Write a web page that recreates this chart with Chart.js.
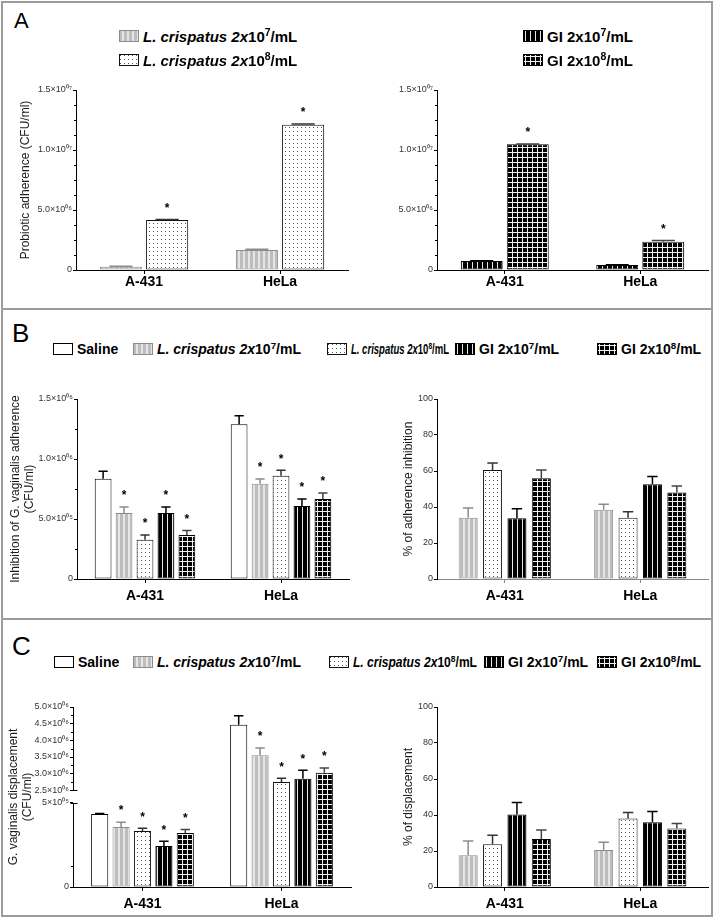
<!DOCTYPE html>
<html>
<head>
<meta charset="utf-8">
<script src="https://cdn.jsdelivr.net/npm/chart.js@4.4.1/dist/chart.umd.min.js"></script>
<style>
  body { margin: 0; background: #fff; font-family: "Liberation Sans", Arial, sans-serif; }
  #fig { position: relative; width: 717px; height: 921px; overflow: hidden; }
  #fig canvas.chart { position: absolute; }
  .frame { position: absolute; border: 2px solid #9c9c9c; box-sizing: border-box; pointer-events: none; }
  .hline { position: absolute; height: 2px; background: #9c9c9c; }
  .panel { position: absolute; font-size: 26px; line-height: 1; color: #000; }
  .lg { position: absolute; display: flex; align-items: center; height: 16px; font-weight: bold; font-size: 14px; color: #000; white-space: nowrap; line-height: 1; }
  .lg canvas { margin-right: 4px; flex: none; }
  .lg span { display: inline-block; transform-origin: left center; }
  .lg sup { font-size: 0.7em; vertical-align: baseline; position: relative; top: -0.5em; }
</style>
</head>
<body>
<div id="fig">
  <div class="frame" style="left:1px;top:1px;width:712px;height:916px"></div>
  <div class="hline" style="left:1px;top:308px;width:712px"></div>
  <div class="hline" style="left:1px;top:618px;width:712px"></div>
  <div class="panel" style="left:14px;top:10px;font-size:22px">A</div>
  <div class="panel" style="left:12px;top:320px">B</div>
  <div class="panel" style="left:12px;top:633px">C</div>
  <canvas class="chart" id="aLeft"></canvas>
  <canvas class="chart" id="aRight"></canvas>
  <canvas class="chart" id="bLeft"></canvas>
  <canvas class="chart" id="bRight"></canvas>
  <canvas class="chart" id="cLeft"></canvas>
  <canvas class="chart" id="cRight"></canvas>
</div>
<script>
const categories = ['A-431', 'HeLa'];

// A: probiotic adherence (CFU/ml)
const adhLc7 = [2.8e5, 1.67e6];
const adhLc7Err = [3e4, 5e4];
const adhLc8 = [4.17e6, 1.21e7];
const adhLc8Err = [3e4, 6e4];
const adhGi7 = [7.5e5, 4.2e5];
const adhGi7Err = [2e4, 2e4];
const adhGi8 = [1.047e7, 2.36e6];
const adhGi8Err = [4e4, 1e5];
const adhStars = [1, 1];

// B left: inhibition of G. vaginalis adherence (CFU/ml)
const inhSaline = [8.36e5, 1.29e6];
const inhSalineErr = [0.61e5, 0.07e6];
const inhLc7 = [5.5e5, 7.94e5];
const inhLc7Err = [0.5e5, 0.39e5];
const inhLc8 = [3.28e5, 8.6e5];
const inhLc8Err = [0.39e5, 0.46e5];
const inhGi7 = [5.5e5, 6.08e5];
const inhGi7Err = [0.5e5, 0.59e5];
const inhGi8 = [3.67e5, 6.67e5];
const inhGi8Err = [0.38e5, 0.5e5];

// B right: % of adherence inhibition
const pctInhLc7 = [34, 38.5];
const pctInhLc7Err = [5.5, 3];
const pctInhLc8 = [60.5, 34];
const pctInhLc8Err = [4, 3.3];
const pctInhGi7 = [33.7, 52.7];
const pctInhGi7Err = [5.3, 4.3];
const pctInhGi8 = [56, 48];
const pctInhGi8Err = [4.5, 3.7];

// C left: G. vaginalis displacement (CFU/ml), broken axis
const dispSaline = [4.33e5, 4.47e6];
const dispSalineErr = [0.03e5, 0.27e6];
const dispLc7 = [3.56e5, 3.55e6];
const dispLc7Err = [0.29e5, 0.22e6];
const dispLc8 = [3.32e5, 2.75e6];
const dispLc8Err = [0.16e5, 0.11e6];
const dispGi7 = [2.43e5, 2.85e6];
const dispGi7Err = [0.28e5, 0.25e6];
const dispGi8 = [3.2e5, 3.03e6];
const dispGi8Err = [0.22e5, 0.14e6];
const dispTicks = [0, 5e5, 2.5e6, 3e6, 3.5e6, 4e6, 4.5e6, 5e6];
const dispMinorTicks = [1.25e5, 2.75e6, 3.25e6, 3.75e6, 4.25e6, 4.75e6];

// C right: % of displacement
const pctDispLc7 = [17.6, 20.5];
const pctDispLc7Err = [7.9, 4.3];
const pctDispLc8 = [23.8, 38.1];
const pctDispLc8Err = [4.9, 3.3];
const pctDispGi7 = [40.3, 36];
const pctDispGi7Err = [6.7, 6];
const pctDispGi8 = [26.6, 32.5];
const pctDispGi8Err = [5, 2.8];

const treatedStars = [1, 1];
const noStars = [0, 0];

Chart.defaults.font.family = "'Liberation Sans', Arial, sans-serif";

// ---- fill patterns ----
function tile(w, h, draw) {
  const c = document.createElement('canvas');
  c.width = w; c.height = h;
  const g = c.getContext('2d');
  draw(g);
  return g.createPattern(c, 'repeat');
}
const fills = {
  saline: '#ffffff',
  lc7: tile(5, 1, g => { g.fillStyle = '#bdbdbd'; g.fillRect(0, 0, 5, 1); g.fillStyle = '#e6e6e6'; g.fillRect(3, 0, 2, 1); }),
  lc8: tile(4, 4, g => { g.fillStyle = '#fff'; g.fillRect(0, 0, 4, 4); g.fillStyle = '#555'; g.fillRect(1, 1, 1, 1); }),
  gi7: tile(5, 1, g => { g.fillStyle = '#000'; g.fillRect(0, 0, 5, 1); g.fillStyle = '#e8e8e8'; g.fillRect(2, 0, 1, 1); }),
  gi8: tile(5, 5, g => { g.fillStyle = '#000'; g.fillRect(0, 0, 5, 5); g.fillStyle = '#f0f0f0'; g.fillRect(0, 2, 5, 1); g.fillRect(2, 0, 1, 5); })
};
const borders = { saline: '#000', lc7: '#8c8c8c', lc8: '#111', gi7: '#000', gi8: '#000' };
const errColors = { saline: '#000', lc7: '#8c8c8c', lc8: '#333', gi7: '#000', gi8: '#444' };

function series(key, data, err, stars) {
  return {
    key, data, errorBars: err, stars,
    backgroundColor: fills[key], borderColor: borders[key], borderWidth: 1, borderSkipped: false
  };
}

// ---- helpers ----
const supDigits = '⁰¹²³⁴⁵⁶⁷⁸⁹';
function sciLabel(v, plainMantissa) {
  if (v === 0) return '0';
  const exp = Math.floor(Math.log10(v) + 1e-9);
  const m = v / Math.pow(10, exp);
  const sup = String(exp).padStart(2, '0').split('').map(d => supDigits[d]).join('');
  return (plainMantissa ? m.toFixed(0) : m.toFixed(1)) + '×10' + sup;
}

class BrokenScale extends Chart.LinearScale {
  buildTicks() {
    return dispTicks.map(v => ({ value: v }));
  }
  getPixelForValue(v) {
    const b = this.options.breakAt;
    const h = this.bottom - this.top;
    let f;
    if (v <= b.low) f = v / b.low * b.lowFrac;
    else if (v < b.high) f = b.lowFrac + (v - b.low) / (b.high - b.low) * b.gapFrac;
    else f = b.lowFrac + b.gapFrac + (v - b.high) / (this.max - b.high) * (1 - b.lowFrac - b.gapFrac);
    return this.bottom - f * h;
  }
}
BrokenScale.id = 'broken';
BrokenScale.defaults = Chart.LinearScale.defaults;
Chart.register(BrokenScale);

const barExtras = {
  id: 'barExtras',
  afterDatasetsDraw(chart) {
    const ctx = chart.ctx, y = chart.scales.y;
    ctx.save();
    chart.data.datasets.forEach((ds, i) => {
      chart.getDatasetMeta(i).data.forEach((bar, j) => {
        const err = ds.errorBars ? ds.errorBars[j] : 0;
        const yTop = y.getPixelForValue(ds.data[j] + err);
        if (err > 0) {
          const cap = Math.max(6, bar.width * 0.55);
          ctx.strokeStyle = errColors[ds.key];
          ctx.lineWidth = 1.5;
          ctx.beginPath();
          ctx.moveTo(bar.x, bar.y);
          ctx.lineTo(bar.x, yTop);
          ctx.moveTo(bar.x - cap / 2, yTop);
          ctx.lineTo(bar.x + cap / 2, yTop);
          ctx.stroke();
        }
        if (ds.stars && ds.stars[j]) {
          ctx.fillStyle = '#000';
          ctx.font = "bold 12px 'Liberation Sans', Arial, sans-serif";
          ctx.textAlign = 'center';
          ctx.textBaseline = 'middle';
          ctx.fillText('*', bar.x, yTop - 11);
        }
      });
    });
    ctx.restore();
  }
};

const minorTicks = {
  id: 'minorTicks',
  afterDraw(chart, args, opts) {
    if (!opts.values) return;
    const s = chart.scales.y, ctx = chart.ctx;
    ctx.save();
    ctx.strokeStyle = '#000';
    ctx.lineWidth = 1;
    ctx.beginPath();
    opts.values.forEach(v => {
      const py = Math.round(s.getPixelForValue(v)) + 0.5;
      ctx.moveTo(s.right - 2, py);
      ctx.lineTo(s.right, py);
    });
    ctx.stroke();
    ctx.restore();
  }
};

const axisBreak = {
  id: 'axisBreak',
  afterDraw(chart, args, opts) {
    if (!opts.low) return;
    const s = chart.scales.y, ctx = chart.ctx, x = s.right + 0.5;
    ctx.save();
    ctx.strokeStyle = '#000';
    ctx.lineWidth = 1;
    ctx.beginPath();
    const y0 = s.getPixelForValue(s.min), y1 = Math.round(s.getPixelForValue(opts.low)) + 0.5;
    const y2 = Math.round(s.getPixelForValue(opts.high)) + 0.5, y3 = s.getPixelForValue(s.max);
    ctx.moveTo(x, y0); ctx.lineTo(x, y1);
    ctx.moveTo(x - 3, y1); ctx.lineTo(x + 4, y1);
    ctx.moveTo(x, y2); ctx.lineTo(x, y3);
    ctx.moveTo(x - 3, y2); ctx.lineTo(x + 4, y2);
    ctx.stroke();
    ctx.restore();
  }
};

Chart.register(barExtras, minorTicks, axisBreak);

// ---- layout: canvas box and plot area (page pixels) ----
const boxes = {
  aLeft:  { x: 0,   y: 70,  w: 360, h: 230, left: 76,  top: 90,  right: 348, bottom: 270 },
  aRight: { x: 360, y: 70,  w: 357, h: 230, left: 437, top: 90,  right: 708, bottom: 270 },
  bLeft:  { x: 0,   y: 379, w: 360, h: 230, left: 77,  top: 399, right: 349, bottom: 579 },
  bRight: { x: 360, y: 379, w: 357, h: 230, left: 437, top: 399, right: 708, bottom: 579 },
  cLeft:  { x: 0,   y: 687, w: 360, h: 230, left: 73,  top: 707, right: 351, bottom: 887 },
  cRight: { x: 360, y: 687, w: 357, h: 230, left: 437, top: 707, right: 708, bottom: 887 }
};

function makeChart(id, cfg) {
  const b = boxes[id];
  const canvas = document.getElementById(id);
  canvas.width = b.w; canvas.height = b.h;
  canvas.style.left = b.x + 'px'; canvas.style.top = b.y + 'px';
  const yScale = Object.assign({
    min: 0, max: cfg.max,
    ticks: { stepSize: cfg.step, autoSkip: false, color: '#333', font: { size: 9 }, padding: 1, callback: cfg.tickLabel },
    grid: { drawOnChartArea: false, tickLength: 3, color: '#000' },
    border: { color: '#000', width: 1, display: !cfg.breakAt },
    title: { display: true, text: cfg.title, color: '#1a1a1a', font: { size: 12 }, padding: { top: cfg.titlePad, bottom: 0 } },
    afterFit: s => { s.width = b.left - b.x; }
  }, cfg.yExtra || {});
  return new Chart(canvas, {
    type: 'bar',
    data: { labels: categories, datasets: cfg.datasets.map(d => Object.assign(d, { barPercentage: cfg.barPct, categoryPercentage: cfg.catPct })) },
    options: {
      responsive: false,
      animation: false,
      events: [],
      layout: { padding: { top: b.top - b.y, right: b.x + b.w - b.right, left: 0, bottom: 0 } },
      plugins: {
        legend: { display: false },
        tooltip: { enabled: false },
        minorTicks: { values: cfg.minor },
        axisBreak: cfg.breakAt || {}
      },
      scales: {
        x: {
          grid: { display: true, drawOnChartArea: false, offset: false, tickLength: 4, color: cfg.xColor || '#000' },
          border: { color: cfg.xColor || '#000', width: 1 },
          ticks: { color: '#000', font: { size: 14, weight: 'bold' }, padding: cfg.xPad },
          afterFit: s => { s.height = b.y + b.h - b.bottom; }
        },
        y: yScale
      }
    }
  });
}

function minorList(max, step, majorStep) {
  const out = [];
  for (let v = step; v < max; v += step) {
    if (Math.abs(v / majorStep - Math.round(v / majorStep)) > 1e-6) out.push(v);
  }
  return out;
}

makeChart('aLeft', {
  datasets: [series('lc7', adhLc7, adhLc7Err, noStars), series('lc8', adhLc8, adhLc8Err, adhStars)],
  max: 1.5e7, step: 5e6, minor: minorList(1.5e7, 1.25e6, 5e6),
  tickLabel: v => sciLabel(v), title: 'Probiotic adherence (CFU/ml)', titlePad: 18,
  barPct: 0.91, catPct: 0.68, xPad: 0
});
makeChart('aRight', {
  datasets: [series('gi7', adhGi7, adhGi7Err, noStars), series('gi8', adhGi8, adhGi8Err, adhStars)],
  max: 1.5e7, step: 5e6, minor: minorList(1.5e7, 1.25e6, 5e6),
  tickLabel: v => sciLabel(v), title: '', titlePad: 0,
  barPct: 0.91, catPct: 0.68, xPad: 0
});
makeChart('bLeft', {
  datasets: [
    series('saline', inhSaline, inhSalineErr, noStars),
    series('lc7', inhLc7, inhLc7Err, treatedStars),
    series('lc8', inhLc8, inhLc8Err, treatedStars),
    series('gi7', inhGi7, inhGi7Err, treatedStars),
    series('gi8', inhGi8, inhGi8Err, treatedStars)
  ],
  max: 1.5e6, step: 5e5, minor: minorList(1.5e6, 2.5e5, 5e5),
  tickLabel: v => sciLabel(v), title: ['Inhibition of G. vaginalis adherence', '(CFU/ml)'], titlePad: 8,
  barPct: 0.8, catPct: 0.77, xPad: 5
});
makeChart('bRight', {
  datasets: [
    series('lc7', pctInhLc7, pctInhLc7Err, noStars),
    series('lc8', pctInhLc8, pctInhLc8Err, noStars),
    series('gi7', pctInhGi7, pctInhGi7Err, noStars),
    series('gi8', pctInhGi8, pctInhGi8Err, noStars)
  ],
  max: 100, step: 20,
  tickLabel: v => String(v), title: '% of adherence inhibition', titlePad: 41,
  barPct: 0.78, catPct: 0.72, xPad: 5, xColor: '#888'
});
makeChart('cLeft', {
  datasets: [
    series('saline', dispSaline, dispSalineErr, noStars),
    series('lc7', dispLc7, dispLc7Err, treatedStars),
    series('lc8', dispLc8, dispLc8Err, treatedStars),
    series('gi7', dispGi7, dispGi7Err, treatedStars),
    series('gi8', dispGi8, dispGi8Err, treatedStars)
  ],
  max: 5e6, minor: dispMinorTicks,
  tickLabel: v => sciLabel(v, v < 1e6), title: ['G. vaginalis displacement', '(CFU/ml)'], titlePad: 6,
  barPct: 0.8, catPct: 0.77, xPad: 5,
  breakAt: { low: 5e5, high: 2.5e6 },
  yExtra: { type: 'broken', breakAt: { low: 5e5, high: 2.5e6, lowFrac: 0.468, gapFrac: 0.069 } }
});
makeChart('cRight', {
  datasets: [
    series('lc7', pctDispLc7, pctDispLc7Err, noStars),
    series('lc8', pctDispLc8, pctDispLc8Err, noStars),
    series('gi7', pctDispGi7, pctDispGi7Err, noStars),
    series('gi8', pctDispGi8, pctDispGi8Err, noStars)
  ],
  max: 100, step: 20,
  tickLabel: v => String(v), title: '% of displacement', titlePad: 41,
  barPct: 0.78, catPct: 0.72, xPad: 5
});

// ---- legends (HTML, pattern swatches) ----
const legendText = {
  saline: 'Saline',
  lc7: '<i>L. crispatus 2x</i>10<sup>7</sup>/mL',
  lc8: '<i>L. crispatus 2x</i>10<sup>8</sup>/mL',
  gi7: 'GI 2x10<sup>7</sup>/mL',
  gi8: 'GI 2x10<sup>8</sup>/mL'
};
// fit: width the text is squeezed into, as in the original figure
const legendItems = [
  { key: 'lc7', x: 119, y: 36, size: 15 }, { key: 'lc8', x: 119, y: 60, size: 15 },
  { key: 'gi7', x: 523, y: 36, size: 15 }, { key: 'gi8', x: 523, y: 60, size: 15 },
  { key: 'saline', x: 53, y: 349 }, { key: 'lc7', x: 133, y: 349 }, { key: 'lc8', x: 327, y: 349, fit: 98 },
  { key: 'gi7', x: 455, y: 349 }, { key: 'gi8', x: 597, y: 349 },
  { key: 'saline', x: 54, y: 662 }, { key: 'lc7', x: 133, y: 662 }, { key: 'lc8', x: 329, y: 662, fit: 124 },
  { key: 'gi7', x: 484, y: 662 }, { key: 'gi8', x: 597, y: 662 }
];
const fig = document.getElementById('fig');
legendItems.forEach(it => {
  const div = document.createElement('div');
  div.className = 'lg';
  div.style.left = it.x + 'px';
  div.style.top = (it.y - 8) + 'px';
  if (it.size) div.style.fontSize = it.size + 'px';
  const sw = document.createElement('canvas');
  sw.width = 20; sw.height = 12;
  const g = sw.getContext('2d');
  g.fillStyle = fills[it.key];
  g.fillRect(0, 0, 20, 12);
  g.strokeStyle = borders[it.key];
  g.lineWidth = 1;
  g.strokeRect(0.5, 0.5, 19, 11);
  div.appendChild(sw);
  const span = document.createElement('span');
  span.innerHTML = legendText[it.key];
  div.appendChild(span);
  fig.appendChild(div);
  if (it.fit) {
    const w = span.getBoundingClientRect().width;
    span.style.transform = 'scaleX(' + (it.fit / w).toFixed(3) + ')';
  }
});
</script>
</body>
</html>
